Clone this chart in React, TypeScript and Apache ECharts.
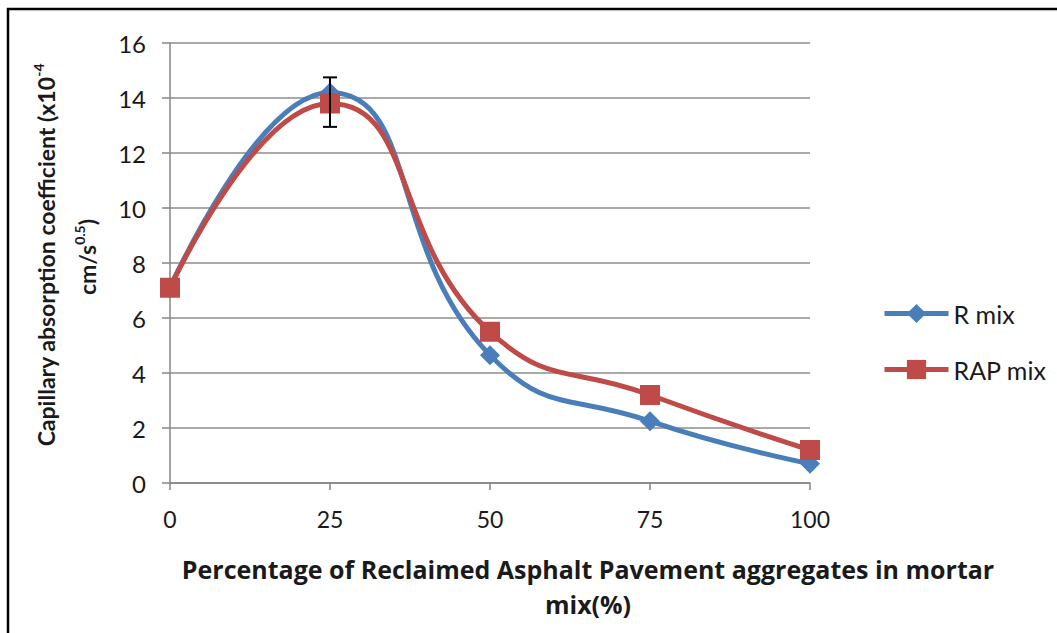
import React, { useEffect, useRef } from "react";
import * as echarts from "echarts";

const xValues = [0, 25, 50, 75, 100];
const rMix = [7.1, 14.2, 4.65, 2.25, 0.7];
const rapMix = [7.1, 13.8, 5.5, 3.2, 1.2];
const errX = [25];
const errLow = [12.95];
const errHigh = [14.75];
const seriesNames = ["R mix", "RAP mix"];

const FONT = "Lato, 'Open Sans', sans-serif";

export default function App() {
  const ref = useRef<HTMLDivElement>(null);
  useEffect(() => {
    if (!ref.current) return;
    const chart = echarts.init(ref.current, undefined, { renderer: "svg" });
    const errData = errX.map((x, i) => [x, errLow[i], errHigh[i]]);
    const rich = {
      b: { fontSize: 23, fontWeight: "bold", fontFamily: FONT, fill: "#1a1a1a", lineHeight: 30, verticalAlign: "middle" },
      s: { fontSize: 14, fontWeight: "bold", fontFamily: FONT, fill: "#1a1a1a", lineHeight: 12, verticalAlign: "top" },
    };
    chart.setOption({
      animation: false,
      backgroundColor: "#ffffff",
      textStyle: { fontFamily: FONT },
      grid: { left: 170, right: 247, top: 43, bottom: 150 },
      legend: {
        orient: "vertical",
        left: 877,
        top: 296,
        itemWidth: 64,
        itemHeight: 24,
        itemGap: 31,
        lineStyle: { width: 5 },
        textStyle: { fontSize: 25, color: "#1a1a1a", fontFamily: FONT },
        data: seriesNames,
      },
      xAxis: {
        type: "value",
        min: 0,
        max: 100,
        interval: 25,
        axisLine: { show: true, lineStyle: { color: "#868686", width: 1.5 } },
        axisTick: { show: true, length: 7, lineStyle: { color: "#868686", width: 1.5 } },
        splitLine: { show: false },
        axisLabel: { fontSize: 23, color: "#1a1a1a", margin: 24, fontFamily: FONT },
      },
      yAxis: {
        type: "value",
        min: 0,
        max: 16,
        interval: 2,
        axisLine: { show: true, lineStyle: { color: "#868686", width: 1.5 } },
        axisTick: { show: true, length: 8, lineStyle: { color: "#868686", width: 1.5 } },
        splitLine: { show: true, lineStyle: { color: "#8c8c8c", width: 1.5 } },
        axisLabel: { fontSize: 24, color: "#1a1a1a", margin: 24, fontFamily: FONT },
      },
      series: [
        {
          name: seriesNames[0],
          type: "line",
          smooth: 0.5,
          data: xValues.map((x, i) => [x, rMix[i]]),
          symbol: "diamond",
          symbolSize: 20,
          lineStyle: { color: "#4a7ebb", width: 5 },
          itemStyle: { color: "#4a7ebb" },
          z: 2,
        },
        {
          name: seriesNames[1],
          type: "line",
          smooth: 0.5,
          data: xValues.map((x, i) => [x, rapMix[i]]),
          symbol: "rect",
          symbolSize: 20,
          lineStyle: { color: "#be4b48", width: 5 },
          itemStyle: { color: "#be4b48" },
          z: 3,
        },
        {
          type: "custom",
          z: 5,
          data: errData,
          renderItem: (params: any, api: any) => {
            const x = api.value(0);
            const lo = api.coord([x, api.value(1)]);
            const hi = api.coord([x, api.value(2)]);
            const cap = 7;
            const st = { stroke: "#000000", lineWidth: 2 };
            return {
              type: "group",
              children: [
                { type: "line", shape: { x1: lo[0], y1: lo[1], x2: hi[0], y2: hi[1] }, style: st },
                { type: "line", shape: { x1: lo[0] - cap, y1: lo[1], x2: lo[0] + cap, y2: lo[1] }, style: st },
                { type: "line", shape: { x1: hi[0] - cap, y1: hi[1], x2: hi[0] + cap, y2: hi[1] }, style: st },
              ],
            };
          },
        },
      ],
      graphic: [
        {
          type: "rect",
          shape: { x: 8, y: 9, width: 1200, height: 800 },
          style: { fill: "none", stroke: "#000000", lineWidth: 2.5 },
          z: 10,
        },
        {
          type: "text",
          x: 46,
          y: 255,
          rotation: Math.PI / 2,
          style: {
            text: "{b|Capillary absorption coefficient (x10}{s|-4}",
            align: "center",
            verticalAlign: "middle",
            rich,
          },
        },
        {
          type: "text",
          x: 87,
          y: 257,
          rotation: Math.PI / 2,
          style: {
            text: "{b|cm/s}{s|0.5}{b|)}",
            align: "center",
            verticalAlign: "middle",
            rich,
          },
        },
        {
          type: "text",
          x: 588,
          y: 586,
          style: {
            text: "Percentage of Reclaimed Asphalt Pavement aggregates in mortar\nmix(%)",
            align: "center",
            verticalAlign: "middle",
            fontSize: 25,
            fontWeight: "bold",
            fontFamily: "'Open Sans', Lato, sans-serif",
            fill: "#1a1a1a",
            lineHeight: 35,
          },
        },
      ],
    });
    return () => chart.dispose();
  }, []);
  return (
    <div
      ref={ref}
      style={{ position: "fixed", left: 0, top: 0, width: 1057, height: 633 }}
    />
  );
}
